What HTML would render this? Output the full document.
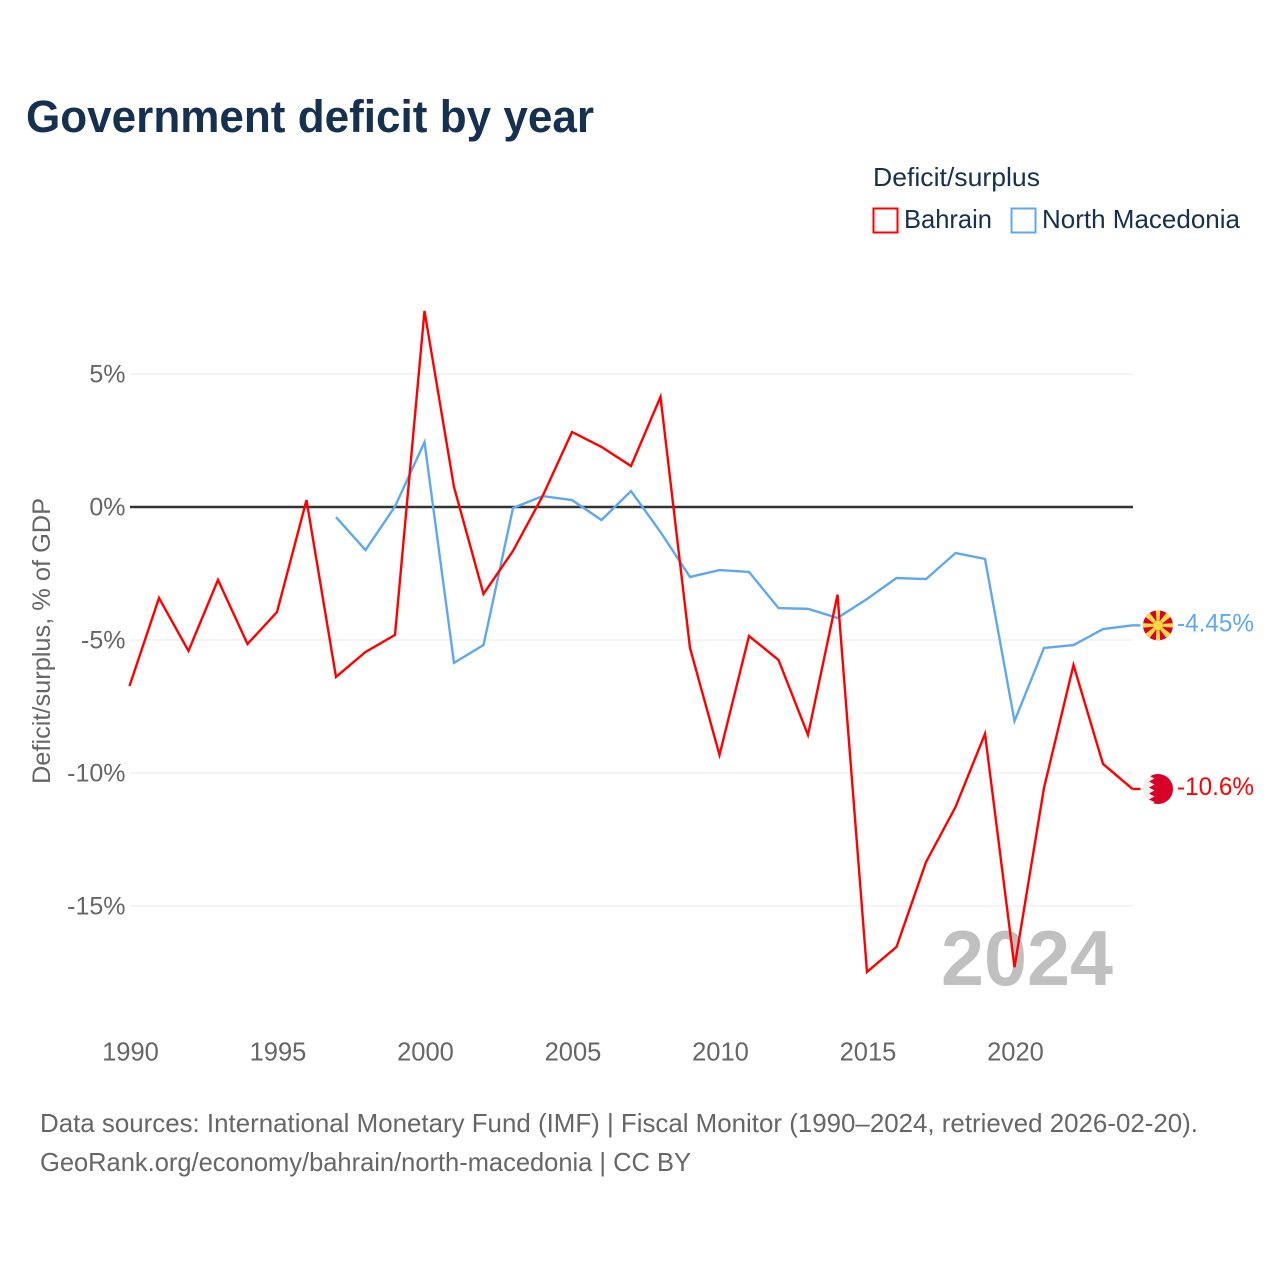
<!DOCTYPE html>
<html lang="en">
<head>
<meta charset="utf-8">
<title>Government deficit by year</title>
<style>
html,body{margin:0;padding:0;background:#fff}
svg{display:block;font-family:"Liberation Sans",sans-serif}
</style>
</head>
<body>
<svg id="chart" xmlns="http://www.w3.org/2000/svg" width="1280" height="1280" viewBox="0 0 1280 1280">
  <rect width="1280" height="1280" fill="#fff"/>
  <text x="26" y="132" font-size="45" font-weight="700" fill="#16304f" textLength="568" lengthAdjust="spacingAndGlyphs">Government deficit by year</text>
  <g>
    <text x="873" y="186" font-size="26" fill="#16304f" textLength="167" lengthAdjust="spacingAndGlyphs">Deficit/surplus</text>
    <rect x="873.5" y="208.5" width="24" height="24" fill="none" stroke="#ff0000" stroke-width="2"/>
    <text x="904" y="228" font-size="26" fill="#16304f" textLength="88" lengthAdjust="spacingAndGlyphs">Bahrain</text>
    <rect x="1011.5" y="208.5" width="24" height="24" fill="none" stroke="#5fa8ee" stroke-width="2"/>
    <text x="1042" y="228" font-size="26" fill="#16304f" textLength="198" lengthAdjust="spacingAndGlyphs">North Macedonia</text>
  </g>
  <text transform="translate(50,641) rotate(-90)" text-anchor="middle" font-size="25" fill="#666" textLength="286" lengthAdjust="spacingAndGlyphs">Deficit/surplus, % of GDP</text>
  <g id="grid"></g>
  <g id="xaxis"></g>
  <text x="1113" y="985" text-anchor="end" font-size="78" font-weight="700" fill="#c0c0c0" textLength="172" lengthAdjust="spacingAndGlyphs">2024</text>
  <g id="series"></g>
  <g id="ends"></g>
  <g>
    <text x="40" y="1132" font-size="26" fill="#666" textLength="1158" lengthAdjust="spacingAndGlyphs">Data sources: International Monetary Fund (IMF) | Fiscal Monitor (1990–2024, retrieved 2026-02-20).</text>
    <text x="40" y="1171" font-size="26" fill="#666" textLength="651" lengthAdjust="spacingAndGlyphs">GeoRank.org/economy/bahrain/north-macedonia | CC BY</text>
  </g>
</svg>
<script>
const years = [1990,1991,1992,1993,1994,1995,1996,1997,1998,1999,2000,2001,2002,2003,2004,2005,2006,2007,2008,2009,2010,2011,2012,2013,2014,2015,2016,2017,2018,2019,2020,2021,2022,2023,2024];
const bahrainValues = [-6.73,-3.42,-5.41,-2.74,-5.15,-3.95,0.26,-6.39,-5.45,-4.81,7.37,0.75,-3.27,-1.65,0.4,2.82,2.26,1.54,4.14,-5.3,-9.32,-4.85,-5.75,-8.57,-3.3,-17.48,-16.54,-13.35,-11.28,-8.53,-17.3,-10.56,-5.94,-9.66,-10.6];
const macedoniaValues = [null,null,null,null,null,null,null,-0.38,-1.62,0.02,2.44,-5.86,-5.19,-0.04,0.41,0.26,-0.49,0.6,-0.94,-2.63,-2.37,-2.44,-3.8,-3.83,-4.17,-3.46,-2.67,-2.71,-1.73,-1.95,-8.05,-5.3,-5.19,-4.59,-4.45];
const yTicks = [5,0,-5,-10,-15];
const xTicks = [1990,1995,2000,2005,2010,2015,2020];
const bahrainEndLabel = "-10.6%";
const macedoniaEndLabel = "-4.45%";

const NS = "http://www.w3.org/2000/svg";
const xScale = function (year) { return 129.5 + (year - 1990) * (1132.5 - 129.5) / 34; };
const yScale = function (value) { return 507 - value * 26.6; };

function make(tag, attrs, parent, text) {
  const el = document.createElementNS(NS, tag);
  for (const k in attrs) el.setAttribute(k, attrs[k]);
  if (text !== undefined) el.textContent = text;
  parent.appendChild(el);
  return el;
}

const grid = document.getElementById("grid");
yTicks.forEach(function (t) {
  const line = make("line", {x1: 130, x2: 1133, y1: yScale(t), y2: yScale(t), stroke: t === 0 ? "#333" : "#e8e8e8", "stroke-width": t === 0 ? 2.4 : 1}, grid);
  
  
  const label = make("text", {x: 125.5, y: yScale(t) + 8.5, "text-anchor": "end", "font-size": 25, fill: "#666"}, grid, t + "%");
  
  
});

const xaxis = document.getElementById("xaxis");
xTicks.forEach(function (t) {
  const label = make("text", {x: xScale(t) + 1, y: 1060.5, "text-anchor": "middle", "font-size": 25.5, fill: "#666"}, xaxis, String(t));
  
  
});

function linePath(values) {
  let d = "";
  values.forEach(function (v, i) {
    if (v === null) return;
    d += (d ? "L" : "M") + xScale(years[i]).toFixed(2) + " " + yScale(v).toFixed(2);
  });
  return d;
}

const seriesGroup = document.getElementById("series");
const macedoniaLine = make("path", {d: linePath(macedoniaValues), fill: "none", stroke: "#5fa8ee", "stroke-width": 2.4, "stroke-linejoin": "miter"}, seriesGroup);


const bahrainLine = make("path", {d: linePath(bahrainValues), fill: "none", stroke: "#ff0000", "stroke-width": 2.4, "stroke-linejoin": "miter"}, seriesGroup);



const ends = document.getElementById("ends");
const defs = make("defs", {}, ends);
const clip = make("clipPath", {id: "flag-clip"}, defs);
make("circle", {cx: 0, cy: 0, r: 15}, clip);

function endMarker(values, color, text, name, drawFlag) {
  const lastValue = values[values.length - 1];
  const x = xScale(years[years.length - 1]);
  const y = yScale(lastValue);
  const stub = make("line", {x1: x, x2: x + 8, y1: y, y2: y, stroke: color, "stroke-width": 2.4}, ends);
  
  
  const flag = make("g", {transform: "translate(" + (x + 25.5) + "," + y + ")", "clip-path": "url(#flag-clip)"}, ends);
  
  
  drawFlag(flag);
  const label = make("text", {x: x + 44.5, y: y + 6, "font-size": 25, fill: color, textLength: 77, lengthAdjust: "spacingAndGlyphs"}, ends, text);
  
  
}

function macedoniaFlag(g) {
  make("rect", {x: -16, y: -16, width: 32, height: 32, fill: "#d80027"}, g);
  for (let a = 0; a < 360; a += 45) {
    const wide = a % 90 === 0 ? 2.4 : 3.4;
    make("polygon", {points: "-1.4,-3 1.4,-3 " + wide + ",-18 -" + wide + ",-18", fill: "#ffda44", transform: "rotate(" + a + ")"}, g);
  }
  make("circle", {cx: 0, cy: 0, r: 5.4, fill: "#e8a020"}, g);
  make("circle", {cx: 0, cy: 0, r: 4.6, fill: "#ffda44"}, g);
}

function bahrainFlag(g) {
  make("rect", {x: -16, y: -16, width: 32, height: 32, fill: "#f0f0f0"}, g);
  make("polygon", {points: "16,-16 -5,-16 -9,-13.5 -3.5,-10.5 -9,-7.5 -3.5,-4.5 -9,-1.5 -3.5,1.5 -9,4.5 -3.5,7.5 -9,10.5 -3.5,13 -6,16 16,16", fill: "#d80027"}, g);
}

endMarker(macedoniaValues, "#5fa8ee", macedoniaEndLabel, "north-macedonia", macedoniaFlag);
endMarker(bahrainValues, "#ff0000", bahrainEndLabel, "bahrain", bahrainFlag);
</script>
</body>
</html>
